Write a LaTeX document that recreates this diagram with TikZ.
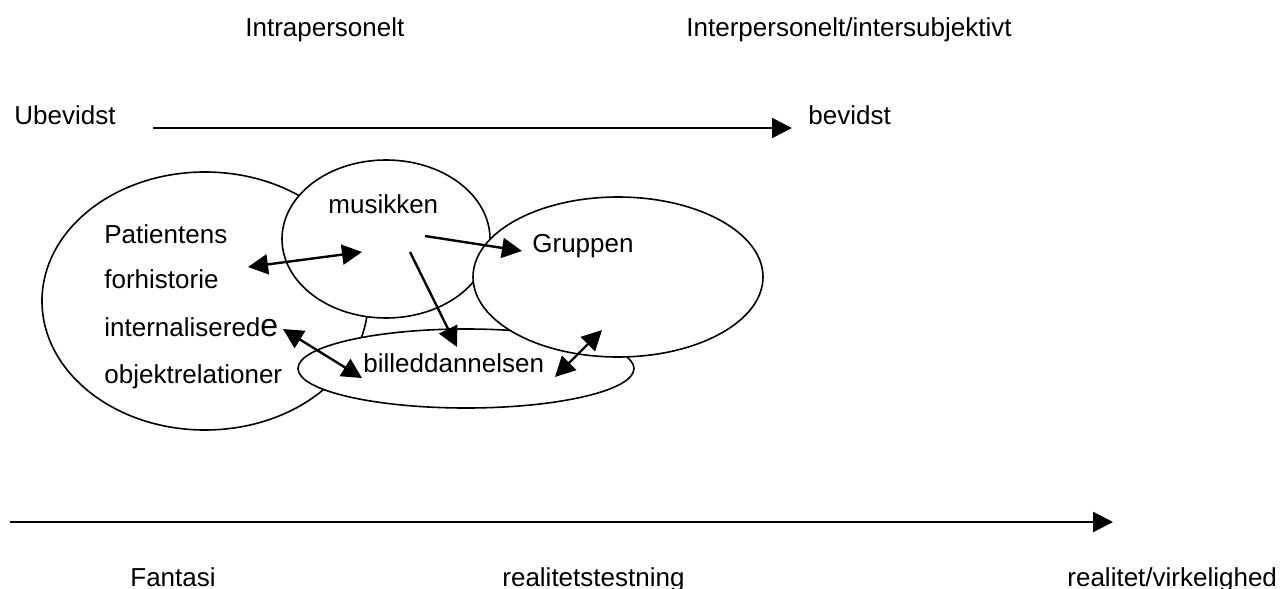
\documentclass[tikz,border=0pt]{standalone}
\usepackage{fontspec}
\setmainfont{Liberation Sans}
\usetikzlibrary{arrows.meta,shapes.geometric}
\begin{document}
\begin{tikzpicture}[x=0.5pt,y=-0.5pt,
  lbl/.style={inner sep=0pt,anchor=base west,font=\fontsize{13pt}{15pt}\selectfont},
  blob/.style={draw,fill=white,line width=0.8pt,ellipse,inner sep=0pt},
  tip/.tip={Triangle[length=10pt,width=10pt]},
  con/.style={line width=1.2pt,-tip},
  dcon/.style={line width=1.2pt,tip-tip}]
\useasboundingbox (0,0) rectangle (1280,589);
% headings
\node[lbl] (intra) at (245,36) {Intrapersonelt};
\node[lbl] (inter) at (686,36) {Interpersonelt/intersubjektivt};
\node[lbl] (ubev) at (14,124) {Ubevidst};
\node[lbl] (bev) at (808,124) {bevidst};
\coordinate (a1s) at (153,128);
\coordinate (a1e) at (792,128);
\draw[con,line width=1pt] (a1s) -- (a1e);
% ellipses (sizes in pt = px/2)
\node[blob,minimum width=163pt,minimum height=129pt] (big) at (205,301) {};
\node[blob,minimum width=104pt,minimum height=79pt] (mus) at (386,239) {};
\node[blob,minimum width=168pt,minimum height=39.5pt] (bil) at (466,368.5) {};
\node[blob,minimum width=145pt,minimum height=80pt] (grp) at (618,277) {};
% texts
\node[lbl] (tmus) at (328,213) {musikken};
\node[lbl] (tpat) at (104,243) {Patientens};
\node[lbl] (tfor) at (104,288) {forhistorie};
\node[lbl] (tint) at (104,336) {internalisered{\fontsize{16pt}{18pt}\selectfont e}};
\node[lbl] (tobj) at (104,383) {objektrelationer};
\node[lbl] (tgrp) at (532,252) {Gruppen};
\node[lbl] (tbil) at (363,372) {billeddannelsen};
% inner arrows
\coordinate (p1) at (248,267);
\coordinate (p2) at (362,252);
\draw[dcon] (p1) -- (p2);
\coordinate (p3) at (425,236);
\coordinate (p4) at (522,251);
\draw[con] (p3) -- (p4);
\coordinate (p5) at (410,252);
\coordinate (p6) at (457,347);
\draw[con] (p5) -- (p6);
\coordinate (p7) at (283,329);
\coordinate (p8) at (362,378);
\draw[dcon] (p7) -- (p8);
\coordinate (p9) at (555,377);
\coordinate (p10) at (602,330);
\draw[dcon] (p9) -- (p10);
% bottom axis
\coordinate (b1) at (10,522);
\coordinate (b2) at (1113,522);
\draw[con] (b1) -- (b2);
\node[lbl] (fan) at (130,586) {Fantasi};
\node[lbl] (rt) at (502,586) {realitetstestning};
\node[lbl] (rv) at (1067,586) {realitet/virkelighed};
\end{tikzpicture}
\end{document}
